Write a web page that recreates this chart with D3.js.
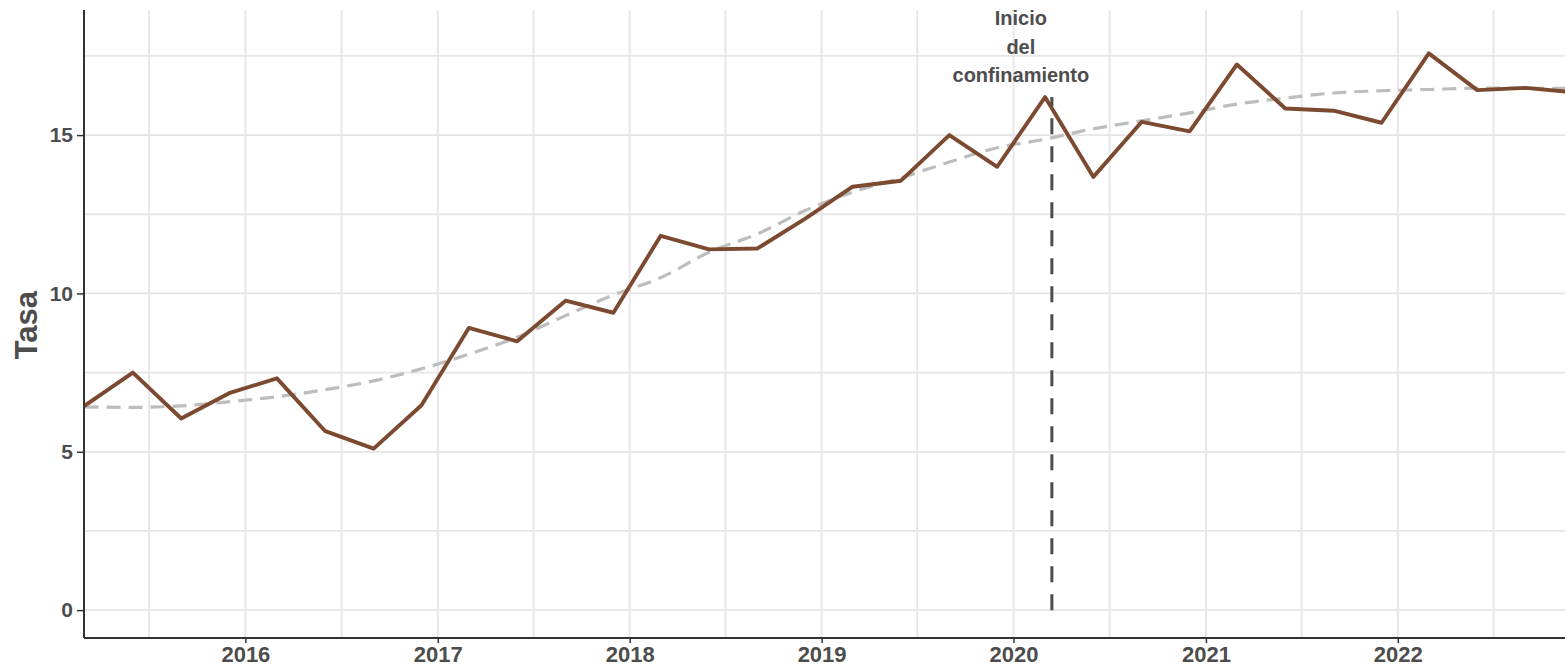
<meta charset="utf-8">
<script src="https://d3js.org/d3.v7.min.js"></script>
<style>
  body { margin: 0; background: #fff; }
  text { font-family: "Liberation Sans", Arial, sans-serif; font-weight: bold; fill: #4d4d4d; }
</style>
<div id="chart"></div>
<script>

// quarterly dates (first month of each value) and the rate
var fechas = [
  "2015-03-01","2015-06-01","2015-09-01","2015-12-01",
  "2016-03-01","2016-06-01","2016-09-01","2016-12-01",
  "2017-03-01","2017-06-01","2017-09-01","2017-12-01",
  "2018-03-01","2018-06-01","2018-09-01","2018-12-01",
  "2019-03-01","2019-06-01","2019-09-01","2019-12-01",
  "2020-03-01","2020-06-01","2020-09-01","2020-12-01",
  "2021-03-01","2021-06-01","2021-09-01","2021-12-01",
  "2022-03-01","2022-06-01","2022-09-01","2022-12-01"
];
var tasa = [
  6.45, 7.50, 6.05, 6.85, 7.32, 5.65, 5.10, 6.47,
  8.91, 8.49, 9.77, 9.39, 11.82, 11.39, 11.42, 12.36,
  13.37, 13.56, 15.00, 14.00, 16.20, 13.68, 15.42, 15.12,
  17.23, 15.84, 15.77, 15.39, 17.58, 16.42, 16.49, 16.35
];
// smoothed trend at the same dates
var tendencia = [
  6.42, 6.40, 6.45, 6.58, 6.74, 6.96, 7.24, 7.62,
  8.08, 8.62, 9.30, 9.95, 10.50, 11.30, 11.88, 12.62,
  13.20, 13.65, 14.15, 14.60, 14.87, 15.20, 15.45, 15.70,
  15.98, 16.17, 16.33, 16.40, 16.44, 16.48, 16.48, 16.47
];
var yTicks = [0, 5, 10, 15];
var yMinor = [2.5, 7.5, 12.5, 17.5];
var xTicks = [2016, 2017, 2018, 2019, 2020, 2021, 2022];
var confinamiento = {fecha: "2020-03-14", valor: 16.2, etiqueta: ["Inicio", "del", "confinamiento"]};

var parse = d3.timeParse("%Y-%m-%d");
var data = fechas.map(function(f, i) {
  return {fecha: parse(f), tasa: tasa[i], tendencia: tendencia[i]};
});

var W = 1565, H = 666;
var margin = {top: 10, right: 0, bottom: 28, left: 84};

var svg = d3.select("#chart").append("svg")
  .attr("width", W)
  .attr("height", H);

var x = d3.scaleTime()
  .domain([parse("2015-03-01"), parse("2022-11-15")])
  .range([margin.left + 0.5, W]);

var y = d3.scaleLinear()
  .domain([-0.88, 18.95])
  .range([H - margin.bottom, margin.top]);

svg.append("clipPath").attr("id", "panel")
  .append("rect")
  .attr("x", margin.left).attr("y", margin.top)
  .attr("width", W - margin.left).attr("height", H - margin.bottom - margin.top);

// grid
var grid = svg.append("g").attr("clip-path", "url(#panel)");
var xMinor = [];
for (var yr = 2015; yr <= 2022; yr++) xMinor.push(new Date(yr, 6, 2));

grid.selectAll(".hg")
  .data(yTicks.concat(yMinor))
  .enter().append("line")
    .attr("x1", margin.left).attr("x2", W)
    .attr("y1", function(d) { return y(d); })
    .attr("y2", function(d) { return y(d); })
    .attr("stroke", "#e6e6e6").attr("stroke-width", 1.8);

grid.selectAll(".vg")
  .data(xTicks.map(function(d) { return new Date(d, 0, 1); }).concat(xMinor))
  .enter().append("line")
    .attr("x1", function(d) { return x(d); })
    .attr("x2", function(d) { return x(d); })
    .attr("y1", margin.top).attr("y2", H - margin.bottom)
    .attr("stroke", "#e6e6e6").attr("stroke-width", 1.8);

var plot = svg.append("g").attr("clip-path", "url(#panel)");

// trend
plot.append("path")
  .datum(data)
  .attr("fill", "none")
  .attr("stroke", "#bdbdbd")
  .attr("stroke-width", 3.2)
  .attr("stroke-dasharray", "14,8")
  .attr("d", d3.line()
    .curve(d3.curveMonotoneX)
    .x(function(d) { return x(d.fecha); })
    .y(function(d) { return y(d.tendencia); }));

// rate line
plot.append("path")
  .datum(data)
  .attr("fill", "none")
  .attr("stroke", "#7b4a31")
  .attr("stroke-width", 3.9)
  .attr("stroke-linejoin", "round")
  .attr("d", d3.line()
    .x(function(d) { return x(d.fecha); })
    .y(function(d) { return y(d.tasa); }));

// lockdown marker
var xc = x(parse(confinamiento.fecha));
plot.append("line")
  .attr("x1", xc).attr("x2", xc)
  .attr("y1", y(0)).attr("y2", y(confinamiento.valor))
  .attr("stroke", "#4d4d4d")
  .attr("stroke-width", 3)
  .attr("stroke-dasharray", "16,12");

svg.append("g").selectAll("text")
  .data(confinamiento.etiqueta)
  .enter().append("text")
    .attr("x", xc - 31)
    .attr("y", function(d, i) { return 25 + i * 28.5; })
    .attr("text-anchor", "middle")
    .style("font-size", "20px")
    .text(function(d) { return d; });

// axes
var yAxis = svg.append("g")
  .attr("transform", "translate(" + margin.left + ",0)")
  .call(d3.axisLeft(y).tickValues(yTicks).tickSize(7).tickPadding(4));
var xAxis = svg.append("g")
  .attr("transform", "translate(0," + (H - margin.bottom) + ")")
  .call(d3.axisBottom(x)
    .tickValues(xTicks.map(function(d) { return new Date(d, 0, 1); }))
    .tickFormat(d3.timeFormat("%Y"))
    .tickSize(5).tickPadding(4));

[xAxis, yAxis].forEach(function(a) {
  a.select(".domain").attr("stroke", "#333").attr("stroke-width", 2);
  a.selectAll(".tick line").attr("stroke", "#333").attr("stroke-width", 1.5);
  a.selectAll(".tick text")
    .style("font-size", "21px")
    .style("font-family", "'Liberation Sans', Arial, sans-serif")
    .style("font-weight", "bold")
    .attr("fill", "#4d4d4d");
});
xAxis.selectAll(".tick text").style("font-size", "22px").attr("dy", "0.68em");
yAxis.select(".domain").attr("d", "M0," + margin.top + "V" + (H - margin.bottom));
xAxis.select(".domain").attr("d", "M" + margin.left + ",0H" + W);

// y axis title
svg.append("text")
  .attr("transform", "translate(37," + y(9.0) + ") rotate(-90)")
  .attr("text-anchor", "middle")
  .style("font-size", "31px")
  .text("Tasa");

</script>
